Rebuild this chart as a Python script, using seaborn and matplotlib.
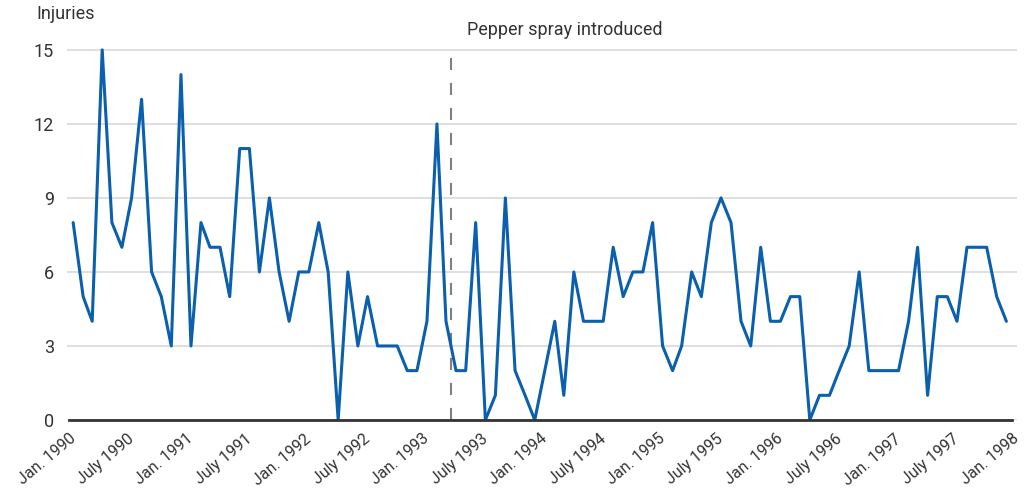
import matplotlib
matplotlib.use('Agg')
import matplotlib.pyplot as plt
import matplotlib.dates as mdates
import seaborn as sns
import pandas as pd

# monthly injuries, Jan 1990 - Dec 1997
injuries = [8, 5, 4, 15, 8, 7, 9, 13, 6, 5, 3, 14,   # 1990
            3, 8, 7, 7, 5, 11, 11, 6, 9, 6, 4, 6,    # 1991
            6, 8, 6, 0, 6, 3, 5, 3, 3, 3, 2, 2,      # 1992
            4, 12, 4, 2, 2, 8, 0, 1, 9, 2, 1, 0,     # 1993
            2, 4, 1, 6, 4, 4, 4, 7, 5, 6, 6, 8,      # 1994
            3, 2, 3, 6, 5, 8, 9, 8, 4, 3, 7, 4,      # 1995
            4, 5, 5, 0, 1, 1, 2, 3, 6, 2, 2, 2,      # 1996
            2, 4, 7, 1, 5, 5, 4, 7, 7, 7, 5, 4]      # 1997
start_month = '1990-01-01'

tick_dates = ['1990-01-01', '1990-07-01', '1991-01-01', '1991-07-01', '1992-01-01',
              '1992-07-01', '1993-01-01', '1993-07-01', '1994-01-01', '1994-07-01',
              '1995-01-01', '1995-07-01', '1996-01-01', '1996-07-01', '1997-01-01',
              '1997-07-01', '1998-01-01']
tick_labels = ['Jan. 1990', 'July 1990', 'Jan. 1991', 'July 1991', 'Jan. 1992',
               'July 1992', 'Jan. 1993', 'July 1993', 'Jan. 1994', 'July 1994',
               'Jan. 1995', 'July 1995', 'Jan. 1996', 'July 1996', 'Jan. 1997',
               'July 1997', 'Jan. 1998']
y_ticks = [0, 3, 6, 9, 12, 15]

event_date = '1993-04-01'
event_label = 'Pepper spray introduced'

if __name__ == '__main__':
    df = pd.DataFrame({
        'month': pd.date_range(start_month, periods=len(injuries), freq='MS') + pd.Timedelta(days=14),
        'injuries': injuries,
    })

    sns.set_style('white')
    plt.rcParams['font.family'] = ['Roboto', 'DejaVu Sans']
    text_color = '#333333'

    fig = plt.figure(figsize=(10.31, 4.93), dpi=100)
    ax = fig.add_axes([66.7 / 1031, 73 / 493, 950 / 1031, 380 / 493])

    ax.yaxis.grid(True, color='#d9d9d9', linewidth=1.2)
    ax.set_axisbelow(True)

    ev = pd.Timestamp(event_date)
    ax.plot([ev, ev], [0, 15], color='#808080', linewidth=1.5, linestyle=(0, (5.8, 6.2)))

    sns.lineplot(data=df, x='month', y='injuries', color='#0a5fae', linewidth=2.2, ax=ax)

    ax.set_xlim(pd.Timestamp('1989-12-26'), pd.Timestamp('1998-01-16'))
    ax.set_ylim(0, 15.4)
    ax.set_yticks(y_ticks)
    ax.set_xticks(pd.to_datetime(tick_dates))
    ax.set_xticklabels(tick_labels, rotation=40, ha='right', rotation_mode='anchor')
    ax.set_xlabel('')
    ax.set_ylabel('')

    for side in ['left', 'top', 'right']:
        ax.spines[side].set_visible(False)
    ax.spines['bottom'].set_color(text_color)
    ax.spines['bottom'].set_linewidth(2)
    ax.spines['bottom'].set_bounds(mdates.date2num(pd.Timestamp(tick_dates[0])),
                                   mdates.date2num(pd.Timestamp(tick_dates[-1])))
    ax.spines['bottom'].set_zorder(5)

    ax.tick_params(axis='x', direction='in', length=11, width=1.5, color=text_color,
                   pad=8, labelsize=11.5, labelcolor=text_color)
    ax.tick_params(axis='y', length=0, pad=9, labelsize=13, labelcolor=text_color)

    ax.annotate(event_label, xy=(ev, 15), xytext=(11, 14), textcoords='offset points',
                ha='left', va='center', fontsize=13, color=text_color, annotation_clip=False)
    fig.text(36 / 1031, 1 - 14 / 493, 'Injuries', ha='left', va='center',
             fontsize=13, color=text_color)

    fig.savefig('out.png', dpi=100)
